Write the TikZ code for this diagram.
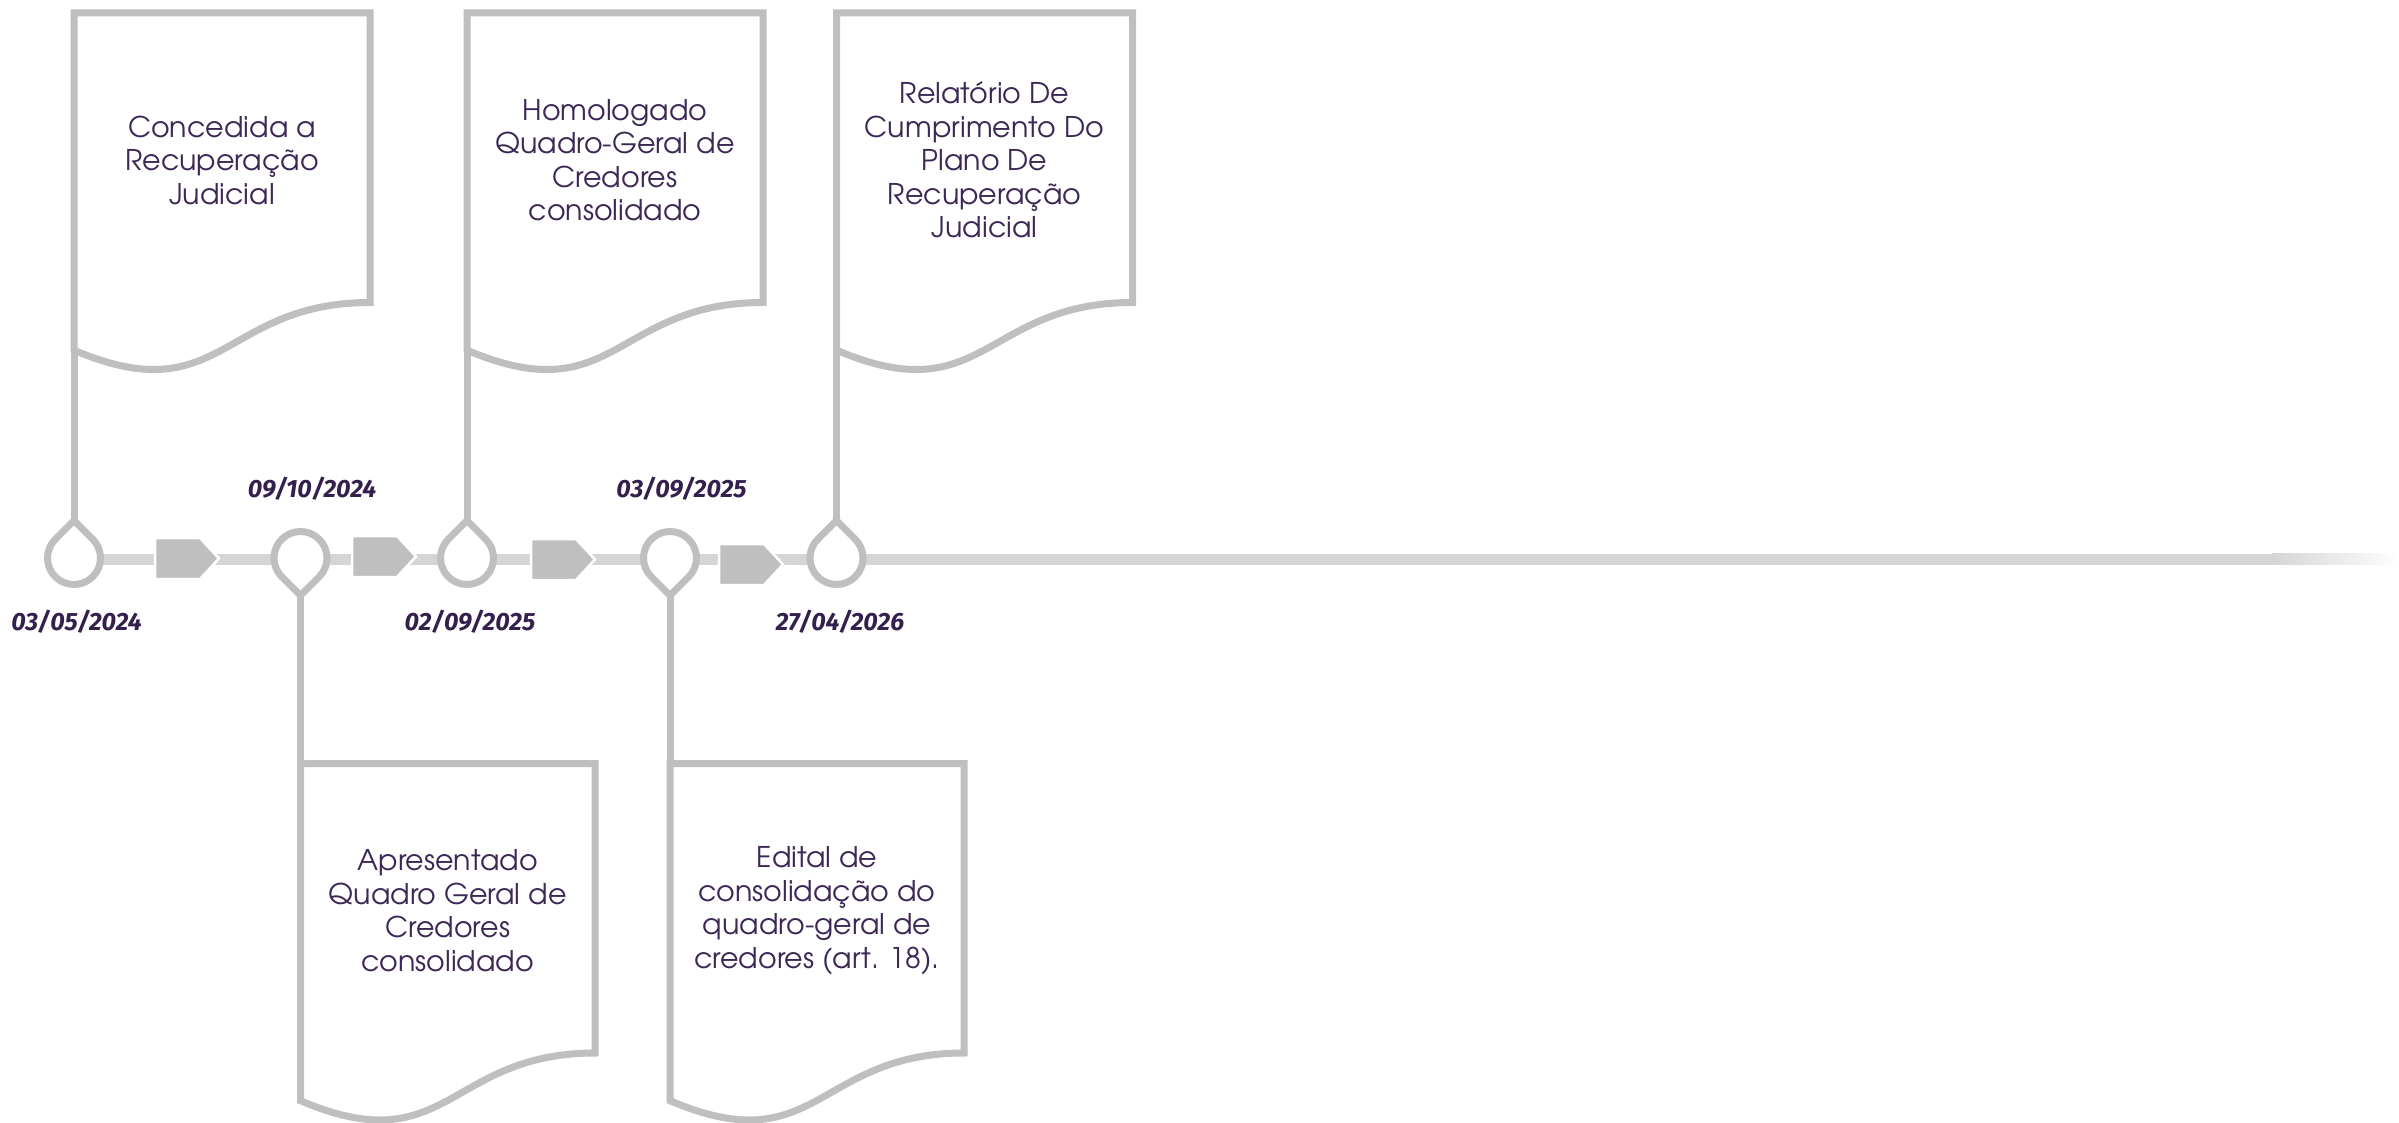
\documentclass[tikz,border=0pt]{standalone}
\usepackage{fontspec}
\setmainfont{TeX Gyre Adventor}
\newfontfamily\datefont{Fira Sans}
\definecolor{outl}{HTML}{BFBFBF}
\definecolor{bandc}{HTML}{D5D5D5}
\definecolor{txtc}{HTML}{3C2856}
\definecolor{datec}{HTML}{33204D}
\tikzset{
 outline/.style={draw=outl, line width=7pt, line join=miter},
 tearup/.pic={\path[outline, fill=white] (0,-37.5) -- (18.74,-18.74) arc[start angle=-45,end angle=225,radius=26.5] -- cycle; \coordinate (-tip) at (0,-37.5);},
 teardown/.pic={\path[outline, fill=white] (0,37.5) -- (-18.74,18.74) arc[start angle=135,end angle=405,radius=26.5] -- cycle; \coordinate (-tip) at (0,37.5);},
 docbox/.pic={\path[outline, fill=white] (0,0) -- (#1,0) -- (#1,289.5) .. controls (#1/2,289.5) and (#1/2,400) .. (0,337.2) -- cycle; \coordinate (-foot) at (0,337.2); \coordinate (-head) at (0,0); \coordinate (-mid) at (#1/2,147);},
 homeplate/.pic={\path[fill=outl, draw=white, line width=2.5pt] (0,-20.5) -- (45,-20.5) -- (64,0) -- (45,20.5) -- (0,20.5) -- cycle;},
 boxtext/.style={align=center, text=txtc, font=\fontsize{28.5}{33.5}\selectfont, inner sep=0pt},
 datetext/.style={text=datec, font=\datefont\bfseries\itshape\fontsize{25}{29}\selectfont, inner sep=0pt, anchor=base},
}
\begin{document}
\begin{tikzpicture}[x=1pt,y=-1pt]
\useasboundingbox (0,0) rectangle (2399,1123);
\fill[white] (0,0) rectangle (2399,1123);
% timeline band
\fill[bandc] (74,553.5) rectangle (2273,564.5);
\shade[left color=bandc, right color=white] (2272,553.5) rectangle (2399,564.5);
% boxes
\pic (b1) at (74,13) {docbox=296};
\pic (b3) at (467,13) {docbox=296};
\pic (b5) at (836.5,13) {docbox=296};
\pic (b2) at (300.5,763.5) {docbox=294.5};
\pic (b4) at (670,763.5) {docbox=294};
% teardrops
\pic (d1) at (74,558) {tearup};
\pic (d2) at (300.5,558) {teardown};
\pic (d3) at (467,558) {tearup};
\pic (d4) at (670,558) {teardown};
\pic (d5) at (836.5,558) {tearup};
% stems
\draw[outline] (d1-tip) -- (b1-foot);
\draw[outline] (d3-tip) -- (b3-foot);
\draw[outline] (d5-tip) -- (b5-foot);
\draw[outline] (d2-tip) -- (b2-head);
\draw[outline] (d4-tip) -- (b4-head);
% arrows
\pic at (155,558.5) {homeplate};
\pic at (352,556.5) {homeplate};
\pic at (531,559.5) {homeplate};
\pic at (719,564.5) {homeplate};
% texts
\node[boxtext] (x1) at (b1-mid) {Concedida a\\Recuperação\\Judicial};
\node[boxtext] (x3) at (b3-mid) {Homologado\\Quadro-Geral de\\Credores\\consolidado};
\node[boxtext] (x5) at (b5-mid) {Relatório De\\Cumprimento Do\\Plano De\\Recuperação\\Judicial};
\node[boxtext] (x2) at (b2-mid) {Apresentado\\Quadro Geral de\\Credores\\consolidado};
\node[boxtext] (x4) at (b4-mid) {Edital de\\consolidação do\\quadro-geral de\\credores (art. 18).};
% dates
\node[datetext] (l1) at (76.5,630) {03/05/2024};
\node[datetext] (l2) at (312,497.5) {09/10/2024};
\node[datetext] (l3) at (470,630) {02/09/2025};
\node[datetext] (l4) at (681.5,497.5) {03/09/2025};
\node[datetext] (l5) at (840,630) {27/04/2026};
\end{tikzpicture}
\end{document}
